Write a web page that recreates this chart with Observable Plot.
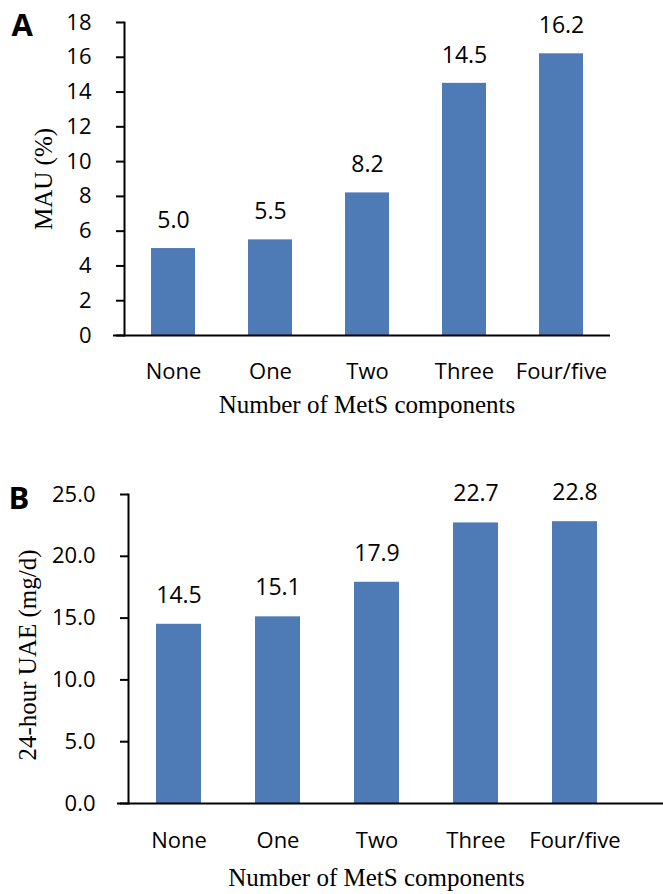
<!DOCTYPE html>
<html>
<head>
<meta charset="utf-8">
<script src="https://cdn.jsdelivr.net/npm/d3@7"></script>
<script src="https://cdn.jsdelivr.net/npm/@observablehq/plot@0.6"></script>
<style>
  html, body { margin: 0; padding: 0; background: #fff; }
  #wrap { width: 663px; }
  svg { display: block; }
  g[aria-label="y-axis tick"] { stroke-width: 2; stroke: #000; }
</style>
</head>
<body>
<div id="wrap"></div>
<script>
const categories = ["None", "One", "Two", "Three", "Four/five"];
const mauValues = [5.0, 5.5, 8.2, 14.5, 16.2];
const uaeValues = [14.5, 15.1, 17.9, 22.7, 22.8];
const mauTicks = [0, 2, 4, 6, 8, 10, 12, 14, 16, 18];
const uaeTicks = [0, 5, 10, 15, 20, 25];
const xTitle = "Number of MetS components";
const mauTitle = "MAU (%)";
const uaeTitle = "24-hour UAE (mg/d)";

const barColor = "#4e7ab5";
const sans = "'Open Sans', sans-serif";
const serif = "'Liberation Serif', 'Times New Roman', serif";

function panel({values, ticks, domain, fmt, title, letter, height, mt, mb, ml, mr, axisExt, valDy, titleDy, tickPad, titleDx, titleShift, letterDx, letterDy}) {
  const data = categories.map((c, i) => ({c, v: values[i]}));
  return Plot.plot({
    width: 663,
    height,
    marginTop: mt,
    marginBottom: mb,
    marginLeft: ml,
    marginRight: mr,
    style: {fontFamily: sans, fontSize: "22px", color: "#000", background: "#fff"},
    x: {domain: categories, paddingInner: 0.55, paddingOuter: 0.275, tickSize: 0, tickPadding: tickPad, label: null},
    y: {domain, ticks, tickFormat: fmt, tickSize: 8, tickPadding: 25, label: null},
    marks: [
      Plot.barY(data, {x: "c", y: "v", fill: barColor}),
      Plot.ruleY([0], {stroke: "#000", strokeWidth: 2, insetLeft: -11, insetRight: -axisExt}),
      Plot.frame({anchor: "left", stroke: "#000", strokeWidth: 2}),
      Plot.text(data, {x: "c", y: "v", text: d => d.v.toFixed(1), dy: valDy, fontSize: 23, fontFamily: sans}),
      Plot.text([xTitle], {frameAnchor: "bottom", lineAnchor: "middle", textAnchor: "middle", dy: titleDy, fontSize: 25, fontFamily: serif}),
      Plot.text([title], {frameAnchor: "left", rotate: -90, textAnchor: "middle", lineAnchor: "middle", dx: titleDx, dy: titleShift, fontSize: 25, fontFamily: serif}),
      Plot.text([letter], {frameAnchor: "top-left", dx: letterDx, dy: letterDy, fontSize: 31, fontWeight: "bold", fontFamily: sans})
    ]
  });
}

const wrap = document.getElementById("wrap");
wrap.append(panel({
  values: mauValues, ticks: mauTicks, domain: [0, 18], fmt: d3.format("d"),
  title: mauTitle, letter: "A", height: 430, mt: 22, mb: 95, ml: 124, mr: 54,
  axisExt: 1, valDy: -28, titleDy: 69, tickPad: 28, titleDx: -81, titleShift: 0,
  letterDx: -113, letterDy: -9
}));
wrap.append(panel({
  values: uaeValues, ticks: uaeTicks, domain: [0, 25], fmt: d3.format(".1f"),
  title: uaeTitle, letter: "B", height: 464, mt: 64, mb: 91, ml: 128, mr: 39,
  axisExt: 40, valDy: -29, titleDy: 74, tickPad: 29, titleDx: -101, titleShift: 6,
  letterDx: -120, letterDy: -8
}));
</script>
</body>
</html>
